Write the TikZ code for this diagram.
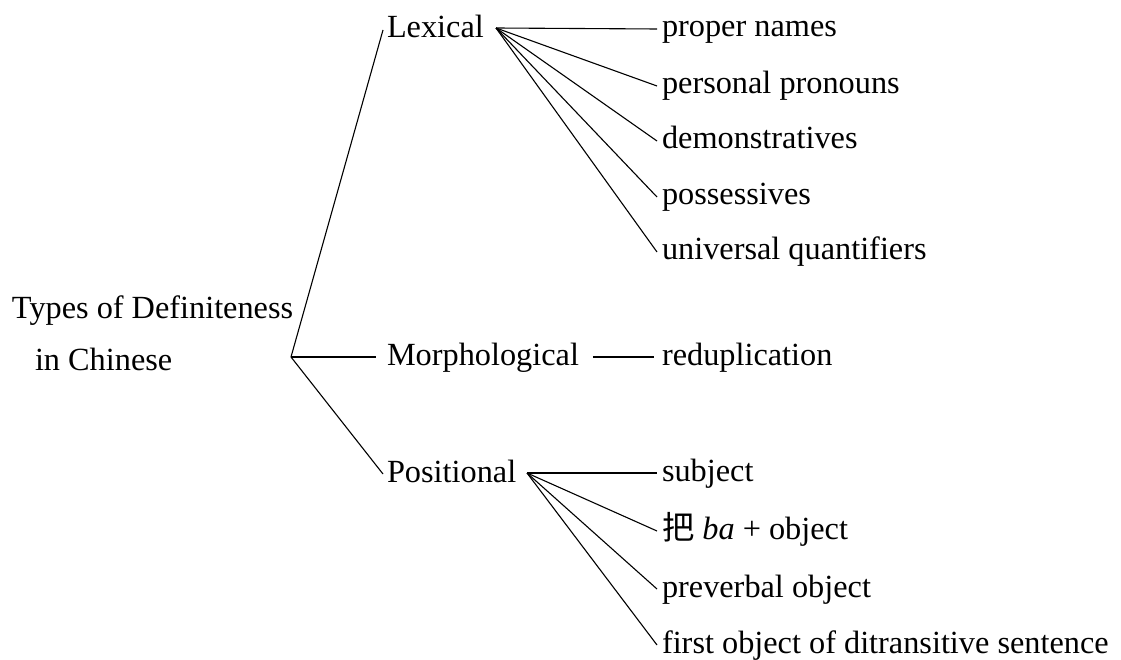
\documentclass[tikz,border=0pt]{standalone}
\usepackage{fontspec}
\setmainfont[Ligatures=NoCommon]{Liberation Serif}
\newfontfamily\cjkfont{Noto Sans CJK SC}
\begin{document}
\begin{tikzpicture}[x=1pt,y=-1pt,
  lbl/.style={anchor=base west,inner sep=0pt,outer sep=0pt,font=\fontsize{32.3}{37}\selectfont,text height=22pt,text depth=6pt},
  edge/.style={draw=black,line width=1.1pt}]
\useasboundingbox (0,0) rectangle (1121,660);
\node[lbl] (t1) at (12,318) {Types of Definiteness};
\node[lbl] (t2) at (35,370) {in Chinese};
\coordinate (root) at (291,357);
\node[lbl] (lex) at (387,38) {Lexical};
\node[lbl] (mor) at (387,365) {Morphological};
\node[lbl] (pos) at (387,482) {Positional};
\coordinate (lexJ) at (496,28);
\coordinate (posJ) at (527,473);
\node[lbl] (l1) at (662,37) {proper names};
\node[lbl] (l2) at (662,94) {personal pronouns};
\node[lbl] (l3) at (662,149) {demonstratives};
\node[lbl] (l4) at (662,205) {possessives};
\node[lbl] (l5) at (662,260) {universal quantifiers};
\node[lbl] (m1) at (662,365) {reduplication};
\node[lbl] (p1) at (662,481) {subject};
\node[lbl] (p2) at (662,539) {{\cjkfont 把} \textit{ba} + object};
\node[lbl] (p3) at (662,597) {preverbal object};
\node[lbl] (p4) at (662,653) {first object of ditransitive sentence};
\draw[edge] (root) -- ([xshift=-4pt]lex.west);
\draw[edge] (root) -- ([xshift=-11pt]mor.west);
\draw[edge] (root) -- ([xshift=-4pt]pos.west);
\draw[edge] ([xshift=14pt]mor.east) -- ([xshift=-8pt]m1.west);
\foreach \n in {l1,l2,l3,l4,l5} \draw[edge] (lexJ) -- ([xshift=-5pt]\n.west);
\foreach \n in {p1,p2,p3,p4} \draw[edge] (posJ) -- ([xshift=-5pt]\n.west);
\end{tikzpicture}
\end{document}
